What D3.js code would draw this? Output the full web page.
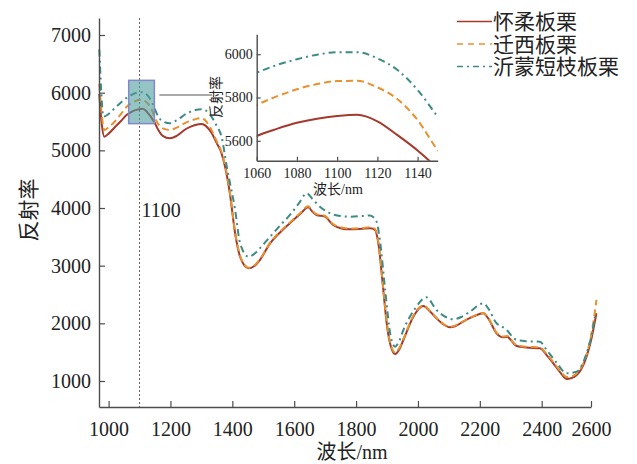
<!DOCTYPE html>
<html>
<head>
<meta charset="utf-8">
<script src="https://cdn.jsdelivr.net/npm/d3@7"></script>
<style>
  body { margin: 0; background: #fff; }
  text { font-family: "Liberation Serif", "Noto Sans CJK SC", serif; fill: #222; }
</style>
</head>
<body>
<svg id="chart" width="637" height="464"></svg>
<script>
const seriesNames = ["怀柔板栗", "迁西板栗", "沂蒙短枝板栗"];

const wlHuairou = [970,978,986,1000,1020,1040,1060,1070,1080,1090,1100,1110,1120,1130,1140,1150,1160,1175,1198,1220,1250,1280,1301,1315,1333,1350,1365,1378,1392,1409,1425,1452,1470,1489,1522,1555,1586,1620,1645,1660,1672,1699,1726,1750,1780,1820,1845,1861,1872,1888,1899,1912,1926,1940,1953,1985,2017,2040,2060,2080,2103,2120,2146,2180,2211,2227,2254,2276,2289,2300,2319,2350,2394,2420,2447,2475,2501,2520,2542,2560,2582,2600,2609,2622];
const valHuairou = [5980,5450,5237,5290,5400,5510,5622,5655,5683,5702,5714,5720,5690,5626,5555,5470,5360,5250,5209,5250,5370,5440,5458,5420,5300,5120,4950,4680,4255,3561,3156,2955,2990,3098,3388,3580,3735,3900,4012,3930,3879,3850,3706,3650,3630,3640,3648,3620,3388,2578,2001,1606,1468,1550,1711,2115,2301,2200,2087,1990,1931,1950,2029,2120,2174,2087,1827,1757,1769,1710,1607,1580,1567,1450,1307,1150,1035,1050,1105,1200,1422,1700,1885,2174];

const wlQianxi = wlHuairou;
const valQianxi = [6150,5620,5353,5400,5500,5630,5765,5805,5838,5862,5876,5877,5847,5792,5696,5557,5460,5380,5353,5395,5480,5540,5560,5505,5350,5150,4970,4700,4275,3580,3170,2965,3000,3110,3400,3595,3750,3915,4030,3945,3895,3865,3720,3665,3645,3655,3665,3640,3410,2600,2030,1630,1495,1575,1730,2130,2310,2210,2095,2000,1940,1960,2035,2125,2180,2095,1840,1770,1780,1720,1620,1595,1580,1470,1330,1175,1070,1080,1130,1230,1460,1780,2000,2405];

const wlYimeng = [970,976,983,1000,1020,1040,1060,1070,1080,1090,1100,1110,1120,1130,1140,1150,1160,1175,1198,1220,1250,1280,1301,1315,1333,1350,1365,1382,1409,1425,1452,1470,1489,1522,1555,1586,1615,1640,1660,1683,1720,1750,1780,1820,1845,1866,1877,1894,1912,1926,1940,1953,1990,2027,2060,2090,2114,2140,2168,2211,2227,2254,2270,2286,2319,2350,2394,2420,2460,2501,2542,2582,2600,2616];
const valYimeng = [6750,6050,5584,5630,5730,5830,5915,5950,5977,5998,6009,6009,5981,5927,5835,5711,5590,5505,5469,5520,5630,5700,5712,5690,5580,5420,5240,4716,3966,3393,3156,3200,3300,3503,3700,3879,4080,4254,4150,4023,3900,3860,3850,3860,3870,3764,3445,2578,1769,1595,1700,1885,2250,2451,2232,2110,2070,2110,2202,2347,2261,2001,1950,1885,1711,1690,1682,1538,1320,1133,1162,1480,1750,2115];

const xTicks = [1000,1200,1400,1600,1800,2000,2200,2400,2600];
const yTicks = [1000,2000,3000,4000,5000,6000,7000];
const insetXTicks = [1060,1080,1100,1120,1140];
const insetYTicks = [5600,5800,6000];
const markWl = 1100;
const zoomWl = [1065, 1148];
const zoomVal = [5463, 6214];

const colors = ["#a5392b", "#e8912f", "#3d8b87"];
const dashes = [null, "7,4", "7,4,2,4"];

const series = [
  { name: seriesNames[0], wl: wlHuairou, val: valHuairou },
  { name: seriesNames[1], wl: wlQianxi, val: valQianxi },
  { name: seriesNames[2], wl: wlYimeng, val: valYimeng }
].map((s, i) => ({ ...s, color: colors[i], dash: dashes[i], pts: s.wl.map((w, j) => [w, s.val[j]]) }));

const svg = d3.select("#chart");
const axisColor = "#4d4d4d";

// main scales: tick 2600 sits right at the end of the axis
const x = d3.scaleLinear().domain([969, 2400, 2600]).range([99, 541.7, 591]);
const y = d3.scaleLinear().domain([549, 7295]).range([407, 18]);

const styleAxis = (g) => {
  g.select(".domain").attr("stroke", axisColor).attr("stroke-width", 1.4);
  g.selectAll(".tick line").attr("stroke", axisColor).attr("stroke-width", 1.2);
  g.selectAll(".tick text").attr("fill", "#222").attr("font-family", "Liberation Serif");
};

// dotted marker at 1100
svg.append("line")
  .attr("x1", x(markWl)).attr("x2", x(markWl))
  .attr("y1", 18).attr("y2", 407)
  .attr("stroke", "#7a5a5a").attr("stroke-width", 1)
  .attr("stroke-dasharray", "2,2");
svg.append("text")
  .attr("x", x(markWl) + 2).attr("y", 217)
  .attr("font-size", 20)
  .text(markWl);

const line = d3.line().x(d => x(d[0])).y(d => y(d[1])).curve(d3.curveMonotoneX);

svg.append("g").selectAll("path").data(series).join("path")
  .attr("d", d => line(d.pts))
  .attr("fill", "none")
  .attr("stroke", d => d.color)
  .attr("stroke-width", 2)
  .attr("stroke-dasharray", d => d.dash);

// zoom box
svg.append("rect")
  .attr("x", x(zoomWl[0])).attr("y", y(zoomVal[1]))
  .attr("width", x(zoomWl[1]) - x(zoomWl[0]))
  .attr("height", y(zoomVal[0]) - y(zoomVal[1]))
  .attr("fill", "#4d9f9d").attr("fill-opacity", 0.6)
  .attr("stroke", "#8388cc").attr("stroke-width", 1.5);
svg.append("line")
  .attr("x1", x(zoomWl[1]) + 5).attr("x2", 212)
  .attr("y1", 95).attr("y2", 95)
  .attr("stroke", "#555").attr("stroke-width", 1.2);

// main axes
svg.append("g").attr("transform", "translate(0,407)")
  .call(d3.axisBottom(x).tickValues(xTicks).tickFormat(d3.format("d"))
    .tickSizeInner(-6).tickSizeOuter(0).tickPadding(15))
  .call(g => g.selectAll("text").attr("font-size", 20))
  .call(styleAxis);
svg.append("g").attr("transform", "translate(99,0)")
  .call(d3.axisLeft(y).tickValues(yTicks).tickFormat(d3.format("d"))
    .tickSizeInner(-6).tickSizeOuter(0).tickPadding(8))
  .call(g => g.selectAll("text").attr("font-size", 20))
  .call(styleAxis);

svg.append("text")
  .attr("transform", "translate(36,210) rotate(-90)")
  .attr("text-anchor", "middle")
  .attr("font-size", 21)
  .text("反射率");
svg.append("text")
  .attr("x", 352).attr("y", 459)
  .attr("text-anchor", "middle")
  .attr("font-size", 20)
  .text("波长/nm");

// inset
const ix = d3.scaleLinear().domain([1060, 1150]).range([256.7, 437.7]);
const iy = d3.scaleLinear().domain([5508, 6092]).range([160.7, 34.3]);

svg.append("clipPath").attr("id", "insetClip")
  .append("rect").attr("x", 256.7).attr("y", 34.3).attr("width", 181).attr("height", 126.4);

const iline = d3.line().x(d => ix(d[0])).y(d => iy(d[1])).curve(d3.curveMonotoneX);
svg.append("g").attr("clip-path", "url(#insetClip)")
  .selectAll("path").data(series).join("path")
  .attr("d", d => iline(d.pts.filter(p => p[0] >= 1040 && p[0] <= 1170)))
  .attr("fill", "none")
  .attr("stroke", d => d.color)
  .attr("stroke-width", 2)
  .attr("stroke-dasharray", d => d.dash);

svg.append("g").attr("transform", "translate(0,160.7)")
  .call(d3.axisBottom(ix).tickValues(insetXTicks).tickFormat(d3.format("d"))
    .tickSizeInner(-4).tickSizeOuter(0).tickPadding(7))
  .call(g => g.selectAll("text").attr("font-size", 14))
  .call(styleAxis);
svg.append("g").attr("transform", "translate(256.7,0)")
  .call(d3.axisLeft(iy).tickValues(insetYTicks).tickFormat(d3.format("d"))
    .tickSizeInner(-4).tickSizeOuter(0).tickPadding(4))
  .call(g => g.selectAll("text").attr("font-size", 14))
  .call(styleAxis);

svg.append("text")
  .attr("transform", "translate(221,97) rotate(-90)")
  .attr("text-anchor", "middle")
  .attr("font-size", 14)
  .text("反射率");
svg.append("text")
  .attr("x", 338).attr("y", 194)
  .attr("text-anchor", "middle")
  .attr("font-size", 14)
  .text("波长/nm");

// legend
const legend = svg.append("g").selectAll("g").data(series).join("g")
  .attr("transform", (d, i) => `translate(457,${21.5 + i * 22.5})`);
legend.append("line")
  .attr("x1", 0).attr("x2", 35)
  .attr("stroke", d => d.color).attr("stroke-width", 1.6)
  .attr("stroke-dasharray", d => d.dash ? (d.dash === "7,4" ? "6,5" : "6,4,2,4") : null);
legend.append("text")
  .attr("x", 36).attr("dy", "0.36em")
  .attr("font-size", 21)
  .text(d => d.name);
</script>
</body>
</html>
